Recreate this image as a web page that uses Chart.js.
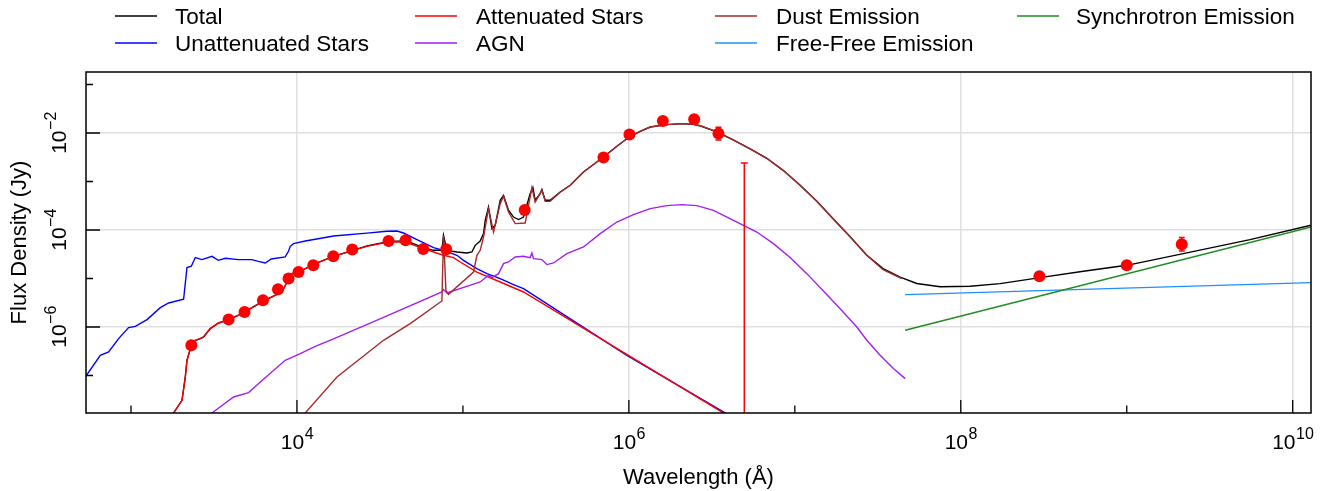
<!DOCTYPE html>
<html><head><meta charset="utf-8">
<script src="https://cdn.jsdelivr.net/npm/chart.js@4.4.1/dist/chart.umd.min.js"></script>
<style>html,body{margin:0;padding:0;background:#fff;}canvas{display:block;}</style>
</head><body>
<canvas id="c" width="1327" height="491"></canvas>
<script>
// ---------- axis ranges & tick labels ----------
const xMin = 535.6, xMax = 1.289e10;
const yMin = 1.685e-8, yMax = 0.1811;
const xTickVals = [1e3, 1e4, 1e5, 1e6, 1e7, 1e8, 1e9, 1e10];
const yTickVals = [1e-1, 1e-2, 1e-3, 1e-4, 1e-5, 1e-6, 1e-7];
const xLabelVals = [1e4, 1e6, 1e8, 1e10];
const xLabelExps = ["4", "6", "8", "10"];
const yLabelVals = [1e-2, 1e-4, 1e-6];
const yLabelExps = ["\u22122", "\u22124", "\u22126"];
const xTitle = "Wavelength (\u00C5)";
const yTitle = "Flux Density (Jy)";

// ---------- legend ----------
const legendLabels = ["Total", "Unattenuated Stars", "Attenuated Stars", "AGN", "Dust Emission", "Free-Free Emission", "Synchrotron Emission"];
const legendColors = ["#000000", "#0000ff", "#ff0000", "#a020f0", "#a52a2a", "#1e90ff", "#228b22"];

// ---------- model curves (wavelength in Angstrom, flux density in Jy) ----------
const totalWave = [1678, 1805, 2029, 2124, 2174, 2309, 2440, 2616, 2737, 3003, 3371, 3873, 4665, 5357, 6155, 7069, 8121, 8705, 9330, 10220, 12890, 16620, 21930, 26410, 36480, 45990, 57910, 66520, 74720, 76390, 80070, 92000, 105700, 113300, 118600, 127100, 133100, 136300, 142600, 149500, 156500, 167800, 175600, 188200, 201800, 216300, 231800, 254300, 264100, 272600, 292200, 299100, 313100, 335600, 385600, 443100, 532700, 703100, 846700, 1.018e6, 1.17e6, 1.344e6, 1.694e6, 2.086e6, 2.45e6, 2.689e6, 3.39e6, 4.25e6, 5.38e6, 6.78e6, 8.50e6, 1.076e7, 1.357e7, 1.701e7, 2.154e7, 2.715e7, 3.402e7, 4.31e7, 5.43e7, 7.51e7, 1.138e8, 1.725e8, 3.0e8, 5.48e8, 1.0e9, 2.19e9, 5.53e9, 1.289e10, 1.4e10];
const totalFlux = [7.4e-9, 1.69e-8, 3.08e-8, 9.31e-8, 2.06e-7, 4.20e-7, 5.32e-7, 5.77e-7, 6.22e-7, 9.27e-7, 1.21e-6, 1.42e-6, 1.89e-6, 2.51e-6, 3.28e-6, 4.16e-6, 5.27e-6, 8.47e-6, 1.26e-5, 1.36e-5, 2.03e-5, 2.87e-5, 3.85e-5, 4.70e-5, 5.90e-5, 5.90e-5, 4.34e-5, 3.81e-5, 3.81e-5, 7.78e-5, 3.81e-5, 3.52e-5, 3.36e-5, 3.52e-5, 4.83e-5, 5.90e-5, 8.43e-5, 1.585e-4, 2.98e-4, 1.07e-4, 1.25e-4, 4.10e-4, 5.19e-4, 2.55e-4, 1.85e-4, 1.64e-4, 1.85e-4, 5.63e-4, 7.48e-4, 4.10e-4, 5.63e-4, 6.81e-4, 4.10e-4, 4.10e-4, 6.07e-4, 8.35e-4, 1.57e-3, 3.20e-3, 5.32e-3, 8.55e-3, 1.084e-2, 1.33e-2, 1.49e-2, 1.56e-2, 1.51e-2, 1.408e-2, 1.059e-2, 7.24e-3, 4.72e-3, 3.01e-3, 1.70e-3, 8.35e-4, 3.91e-4, 1.70e-4, 7.24e-5, 3.01e-5, 1.60e-5, 1.07e-5, 7.9e-6, 6.75e-6, 6.9e-6, 7.85e-6, 1.044e-5, 1.408e-5, 1.87e-5, 3.26e-5, 6.34e-5, 1.25e-4, 1.35e-4];

const unattWave = [500, 530, 653, 733, 842, 967, 1062, 1249, 1502, 1685, 2075, 2174, 2309, 2440, 2678, 3076, 3357, 3700, 4430, 5357, 5847, 6442, 7000, 8501, 8901, 9114, 9539, 11220, 12890, 16620, 26410, 34850, 40030, 43880, 52840, 60690, 66520, 76390, 92000, 100800, 121400, 139500, 167800, 201800, 231800, 972800, 3.71e6, 6.18e6];
const unattFlux = [7.0e-8, 9.3e-8, 2.61e-7, 3.05e-7, 5.77e-7, 9.72e-7, 1.03e-6, 1.42e-6, 2.51e-6, 3.13e-6, 3.73e-6, 1.68e-5, 1.79e-5, 2.70e-5, 2.45e-5, 2.87e-5, 2.37e-5, 2.61e-5, 2.45e-5, 2.45e-5, 2.26e-5, 2.09e-5, 2.52e-5, 2.78e-5, 3.69e-5, 4.61e-5, 5.24e-5, 5.93e-5, 6.43e-5, 7.52e-5, 8.60e-5, 9.40e-5, 9.54e-5, 8.67e-5, 6.34e-5, 5.07e-5, 4.34e-5, 3.81e-5, 3.01e-5, 2.37e-5, 1.60e-5, 1.26e-5, 9.95e-6, 7.48e-6, 6.19e-6, 2.61e-7, 1.77e-8, 5.9e-9];

const attWave = [1678, 1805, 2029, 2124, 2174, 2309, 2440, 2616, 2737, 3003, 3371, 3873, 4665, 5357, 6155, 7069, 8121, 8705, 9330, 10220, 12890, 16620, 21930, 26410, 35630, 44920, 57910, 66520, 76390, 87770, 96320, 121400, 167800, 231800, 3.71e6, 6.18e6];
const attFlux = [7.4e-9, 1.69e-8, 3.08e-8, 9.31e-8, 2.06e-7, 4.20e-7, 5.32e-7, 5.77e-7, 6.22e-7, 9.27e-7, 1.21e-6, 1.42e-6, 1.89e-6, 2.51e-6, 3.28e-6, 4.16e-6, 5.27e-6, 8.47e-6, 1.26e-5, 1.36e-5, 2.03e-5, 2.87e-5, 3.81e-5, 4.61e-5, 5.66e-5, 5.66e-5, 4.14e-5, 3.52e-5, 3.01e-5, 2.70e-5, 2.19e-5, 1.36e-5, 8.47e-6, 5.27e-6, 1.69e-8, 5.3e-9];

const agnWave = [2803, 3076, 4151, 5109, 6353, 8501, 10470, 12890, 16620, 33230, 74720, 76390, 80070, 127100, 142600, 149500, 163900, 175600, 188200, 206600, 231800, 254300, 260400, 266300, 299100, 320600, 351400, 423100, 532700, 671600, 846700, 1.066e6, 1.344e6, 1.694e6, 2.086e6, 2.568e6, 3.232e6, 4.27e6, 5.905e6, 7.43e6, 9.37e6, 1.181e7, 1.487e7, 1.875e7, 2.363e7, 2.715e7, 3.265e7, 3.926e7, 4.62e7];
const agnFlux = [1.19e-8, 1.69e-8, 3.60e-8, 4.44e-8, 8.63e-8, 2.06e-7, 2.83e-7, 4.0e-7, 5.71e-7, 1.585e-6, 5.27e-6, 5.90e-6, 5.02e-6, 8.47e-6, 1.164e-5, 1.044e-5, 1.26e-5, 2.03e-5, 2.19e-5, 2.78e-5, 2.87e-5, 2.70e-5, 3.36e-5, 2.57e-5, 2.45e-5, 1.935e-5, 2.09e-5, 3.26e-5, 4.46e-5, 8.43e-5, 1.46e-4, 2.08e-4, 2.76e-4, 3.18e-4, 3.34e-4, 3.18e-4, 2.55e-4, 1.585e-4, 9.09e-5, 5.24e-5, 2.70e-5, 1.26e-5, 5.52e-6, 2.39e-6, 1.0e-6, 5.32e-7, 2.61e-7, 1.39e-7, 8.63e-8];

const dustWave = [9114, 11220, 17420, 33230, 48130, 74720, 76390, 78990, 81900, 115800, 121400, 127100, 133100, 142600, 152900, 167800, 175600, 188200, 206600, 237300, 260400, 272600, 299100, 313100, 335600, 385600, 443100, 532700, 703100, 846700, 1.018e6, 1.17e6, 1.344e6, 1.694e6, 2.086e6, 2.45e6, 2.689e6, 3.39e6, 4.25e6, 5.38e6, 6.78e6, 8.50e6, 1.076e7, 1.357e7, 1.701e7, 2.154e7, 2.715e7, 3.402e7, 4.40e7];
const dustFlux = [9.4e-9, 1.69e-8, 9.31e-8, 5.32e-7, 1.175e-6, 3.44e-6, 7.78e-5, 5.71e-6, 4.72e-6, 1.36e-5, 3.01e-5, 3.81e-5, 7.17e-5, 2.76e-4, 9.09e-5, 3.50e-4, 4.95e-4, 2.35e-4, 1.355e-4, 1.39e-4, 7.48e-4, 3.78e-4, 6.59e-4, 3.91e-4, 3.90e-4, 6.0e-4, 8.35e-4, 1.57e-3, 3.20e-3, 5.32e-3, 8.55e-3, 1.084e-2, 1.33e-2, 1.49e-2, 1.56e-2, 1.51e-2, 1.408e-2, 1.059e-2, 7.24e-3, 4.72e-3, 3.01e-3, 1.70e-3, 8.35e-4, 3.91e-4, 1.70e-4, 7.24e-5, 3.0e-5, 1.52e-5, 1.0e-5];

const ffWave = [4.62e7, 1.289e10];
const ffFlux = [4.66e-6, 8.23e-6];

const syncWave = [4.62e7, 1.289e10];
const syncFlux = [8.55e-7, 1.153e-4];

// ---------- observations ----------
const obsWave = [2309, 3873, 4834, 6241, 7685, 8901, 10220, 12540, 16550, 21530, 35630, 45110, 57660, 79300, 235700, 703100, 1.008e6, 1.602e6, 2.474e6, 3.466e6, 2.975e8, 1.0e9, 2.145e9];
const obsFlux = [4.20e-7, 1.42e-6, 2.04e-6, 3.55e-6, 5.99e-6, 9.95e-6, 1.36e-5, 1.87e-5, 2.87e-5, 3.96e-5, 5.93e-5, 6.13e-5, 4.04e-5, 4.00e-5, 2.58e-4, 3.11e-3, 9.27e-3, 1.77e-2, 1.92e-2, 9.72e-3, 1.11e-5, 1.87e-5, 5.07e-5];
const obsErrLo = [null, null, null, null, null, null, null, null, null, null, null, null, null, null, null, null, null, null, null, 7.15e-3, null, null, 3.69e-5];
const obsErrHi = [null, null, null, null, null, null, null, null, null, null, null, null, null, null, null, null, null, null, null, 1.32e-2, null, null, 6.97e-5];
const ulWave = [4.96e6];
const ulFlux = [2.41e-3];

// ---------- build ----------
const pairs = (xs, ys) => xs.map((x, i) => ({x: x, y: ys[i]}));
const FONT = '"Liberation Sans", Arial, Helvetica, sans-serif';

function lineDs(label, xs, ys, color, order) {
  return {label, data: pairs(xs, ys), showLine: true, borderColor: color, backgroundColor: color,
    borderWidth: 1.4, pointRadius: 0, pointHoverRadius: 0, order, tension: 0};
}

function drawPow(ctx, cx, baseY, exp) {
  ctx.font = '21px ' + FONT;
  const w1 = ctx.measureText('10').width;
  ctx.font = '16px ' + FONT;
  const w2 = ctx.measureText(exp).width;
  const x0 = cx - (w1 + w2) / 2;
  ctx.textAlign = 'left'; ctx.textBaseline = 'alphabetic';
  ctx.font = '21px ' + FONT;
  ctx.fillText('10', x0, baseY);
  ctx.font = '16px ' + FONT;
  ctx.fillText(exp, x0 + w1 + 0.5, baseY - 10);
}

const decor = {
  id: 'decor',
  afterDatasetsDraw(chart) {
    const {ctx, chartArea: a, scales: {x, y}} = chart;
    ctx.save();
    ctx.beginPath(); ctx.rect(a.left, a.top, a.right - a.left, a.bottom - a.top); ctx.clip();
    ctx.strokeStyle = '#ff0000'; ctx.lineWidth = 1.5;
    obsWave.forEach((w, i) => {
      if (obsErrLo[i] == null) return;
      const px = x.getPixelForValue(w);
      const y1 = y.getPixelForValue(obsErrLo[i]), y2 = y.getPixelForValue(obsErrHi[i]);
      ctx.beginPath();
      ctx.moveTo(px, y1); ctx.lineTo(px, y2);
      ctx.moveTo(px - 3, y1); ctx.lineTo(px + 3, y1);
      ctx.moveTo(px - 3, y2); ctx.lineTo(px + 3, y2);
      ctx.stroke();
    });
    ulWave.forEach((w, i) => {
      const px = x.getPixelForValue(w);
      const py = y.getPixelForValue(ulFlux[i]);
      ctx.beginPath();
      ctx.moveTo(px, py); ctx.lineTo(px, a.bottom + 5);
      ctx.moveTo(px - 3.5, py); ctx.lineTo(px + 3.5, py);
      ctx.stroke();
    });
    ctx.restore();
  },
  afterDraw(chart) {
    const {ctx, chartArea: a, scales: {x, y}} = chart;
    ctx.save();
    ctx.strokeStyle = '#000'; ctx.fillStyle = '#000';
    ctx.lineWidth = 1.5;
    ctx.strokeRect(a.left, a.top, a.right - a.left, a.bottom - a.top);
    ctx.lineWidth = 1.3;
    ctx.beginPath();
    xTickVals.forEach(v => {
      const px = x.getPixelForValue(v);
      const major = Math.round(Math.log10(v)) % 2 === 0;
      ctx.moveTo(px, a.bottom); ctx.lineTo(px, a.bottom - (major ? 13 : 7.5));
    });
    yTickVals.forEach(v => {
      const py = y.getPixelForValue(v);
      const major = Math.abs(Math.round(Math.log10(v))) % 2 === 0;
      ctx.moveTo(a.left, py); ctx.lineTo(a.left + (major ? 14 : 7), py);
    });
    ctx.stroke();
    xLabelVals.forEach((v, i) => drawPow(ctx, x.getPixelForValue(v), 448.5, xLabelExps[i]));
    yLabelVals.forEach((v, i) => {
      ctx.save();
      ctx.translate(65.7, y.getPixelForValue(v));
      ctx.rotate(-Math.PI / 2);
      drawPow(ctx, 0, 0, yLabelExps[i]);
      ctx.restore();
    });
    ctx.font = '22px ' + FONT;
    ctx.textAlign = 'center'; ctx.textBaseline = 'alphabetic';
    ctx.fillText(xTitle, (a.left + a.right) / 2, 484);
    ctx.save();
    ctx.translate(26, (a.top + a.bottom) / 2);
    ctx.rotate(-Math.PI / 2);
    ctx.fillText(yTitle, 0, 0);
    ctx.restore();
    const colLine = [115, 415, 715, 1017];
    const colText = [175, 476, 776, 1076];
    const rowY = [16, 43];
    ctx.textAlign = 'left';
    ctx.font = '22.5px ' + FONT;
    legendLabels.forEach((lab, i) => {
      const c = Math.floor(i / 2), r = i % 2;
      ctx.strokeStyle = legendColors[i]; ctx.lineWidth = 1.5;
      ctx.beginPath(); ctx.moveTo(colLine[c], rowY[r]); ctx.lineTo(colLine[c] + 42, rowY[r]); ctx.stroke();
      ctx.fillStyle = '#000';
      ctx.fillText(lab, colText[c], rowY[r] + 8);
    });
    ctx.restore();
  }
};

new Chart(document.getElementById('c').getContext('2d'), {
  type: 'scatter',
  data: {datasets: [
    {label: 'Observed', data: pairs(obsWave, obsFlux), showLine: false, pointRadius: 6, pointHoverRadius: 6,
      backgroundColor: '#ff0000', borderWidth: 0, pointBorderWidth: 0, order: 0},
    lineDs(legendLabels[6], syncWave, syncFlux, legendColors[6], 3),
    lineDs(legendLabels[5], ffWave, ffFlux, legendColors[5], 4),
    lineDs(legendLabels[4], dustWave, dustFlux, legendColors[4], 5),
    lineDs(legendLabels[3], agnWave, agnFlux, legendColors[3], 6),
    lineDs(legendLabels[2], attWave, attFlux, legendColors[2], 7),
    lineDs(legendLabels[1], unattWave, unattFlux, legendColors[1], 8),
    lineDs(legendLabels[0], totalWave, totalFlux, legendColors[0], 9)
  ]},
  options: {
    responsive: false, animation: false, devicePixelRatio: 1,
    layout: {padding: {left: 86, right: 16, top: 72, bottom: 78}},
    plugins: {legend: {display: false}, tooltip: {enabled: false}},
    events: [],
    scales: {
      x: {type: 'logarithmic', min: xMin, max: xMax,
        ticks: {display: false, padding: 0}, border: {display: false},
        grid: {color: '#e0e0e0', lineWidth: 1.5, drawTicks: false, tickLength: 0},
        afterBuildTicks: ax => { ax.ticks = xLabelVals.map(v => ({value: v})); }},
      y: {type: 'logarithmic', min: yMin, max: yMax,
        ticks: {display: false, padding: 0}, border: {display: false},
        grid: {color: '#e0e0e0', lineWidth: 1.5, drawTicks: false, tickLength: 0},
        afterBuildTicks: ax => { ax.ticks = yLabelVals.map(v => ({value: v})); }}
    }
  },
  plugins: [decor]
});
</script>
</body></html>
